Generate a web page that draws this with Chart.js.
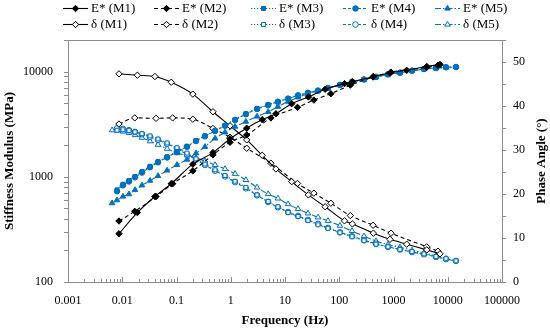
<!DOCTYPE html>
<html>
<head>
<meta charset="utf-8">
<script src="https://cdn.jsdelivr.net/npm/chart.js@4.4.1/dist/chart.umd.min.js"></script>
<style>
html, body { margin: 0; padding: 0; background: #fff; }
#wrap { width: 550px; height: 330px; position: relative; }
</style>
</head>
<body>
<div id="wrap"><canvas id="grafico"></canvas></div>
<script>
// frequencias (Hz) e valores
var freqM1 = [0.0087, 0.019, 0.04, 0.08, 0.2, 0.47, 0.97, 1.97, 3.8, 6.8, 13.3, 27, 55, 125, 175, 425, 860, 1750, 4100, 7200];
var modM1 = [288, 457, 650, 860, 1320, 1700, 2300, 2900, 3500, 3980, 4960, 5750, 6800, 7700, 8000, 9000, 9700, 10300, 11200, 11700];
var fasM1 = [47.3, 47.0, 46.7, 45.4, 42.7, 38.7, 35.5, 32.3, 28.8, 25.7, 22.8, 19.8, 17.1, 13.9, 13.2, 11.1, 9.7, 8.6, 7.3, 6.4];

var freqM2 = [0.0087, 0.017, 0.042, 0.085, 0.2, 0.47, 0.97, 1.97, 5.5, 17, 34, 70, 160, 420, 900, 4100, 6600];
var modM2 = [380, 470, 650, 860, 1140, 1620, 2130, 2500, 3630, 4580, 5370, 6170, 7440, 8900, 9900, 11000, 11500];
var fasM2 = [35.9, 37.3, 37.2, 37.3, 37.0, 34.9, 32.9, 30.4, 27.0, 22.4, 20.2, 17.9, 15.1, 12.9, 11.1, 8.0, 7.0];

var freqM3M4 = [0.008, 0.0103, 0.0133, 0.0172, 0.0231, 0.0325, 0.0456, 0.067, 0.102, 0.156, 0.229, 0.335, 0.513, 0.784, 1.2, 1.9, 3.05, 4.9, 7.4, 11.4, 17.4, 26.5, 40.6, 62, 103, 172, 286, 476, 792, 1318, 2193, 3650, 6070, 9290, 14200];
var modM3 = [752, 851, 923, 1007, 1122, 1259, 1396, 1549, 1738, 1950, 2213, 2455, 2754, 3090, 3508, 3981, 4467, 4853, 5190, 5560, 5960, 6310, 6610, 7000, 7500, 8040, 8430, 8910, 9440, 9770, 10230, 10620, 10840, 11020, 11090];
var fasM3 = [34.5, 34.6, 34.4, 34.1, 33.7, 33.2, 32.5, 31.6, 30.5, 29.3, 28.0, 26.8, 25.5, 24.2, 22.9, 21.5, 19.8, 18.3, 17.1, 15.8, 14.9, 14.0, 13.0, 12.2, 11.2, 10.3, 9.4, 8.6, 8.0, 7.4, 6.9, 6.4, 5.8, 5.3, 4.8];
var modM4 = [730, 830, 905, 990, 1100, 1235, 1375, 1530, 1720, 1930, 2190, 2430, 2730, 3060, 3470, 3940, 4420, 4820, 5170, 5540, 5940, 6290, 6600, 6990, 7480, 8010, 8420, 8900, 9420, 9760, 10210, 10600, 10830, 11000, 11080];
var fasM4 = [34.9, 34.8, 34.5, 34.1, 33.6, 33.0, 32.3, 31.4, 30.3, 29.0, 27.8, 26.6, 25.3, 24.0, 22.7, 21.3, 19.7, 18.2, 17.0, 15.9, 15.0, 14.1, 13.2, 12.3, 11.3, 10.4, 9.5, 8.7, 8.0, 7.4, 6.8, 6.3, 5.7, 5.2, 4.8];

var freqM5 = [0.0065, 0.008, 0.0103, 0.0133, 0.0172, 0.0231, 0.0325, 0.0456, 0.067, 0.102, 0.156, 0.229, 0.335, 0.513, 0.784, 1.2, 1.9, 3.05, 4.9, 7.4, 11.4, 17.4, 26.5, 40.6, 62, 103, 172, 286, 476, 792, 1318, 2193, 3650, 6070, 9290];
var modM5 = [562, 600, 650, 684, 750, 830, 920, 1020, 1150, 1300, 1460, 1680, 1930, 2320, 2650, 3000, 3350, 3750, 4150, 4650, 5200, 5700, 6150, 6550, 6950, 7450, 8000, 8400, 8900, 9400, 9750, 10200, 10550, 10800, 10950];
var fasM5 = [34.5, 34.4, 34.2, 33.9, 33.4, 32.8, 32.0, 31.2, 30.3, 29.3, 28.8, 28.2, 27.5, 26.6, 25.7, 24.6, 23.2, 21.5, 20.0, 19.0, 17.7, 16.6, 15.6, 14.7, 13.9, 12.8, 11.6, 10.4, 9.3, 8.5, 7.9, 7.2, 6.6, 5.9, 5.3];

var ticksX = [0.001, 0.01, 0.1, 1, 10, 100, 1000, 10000, 100000];
var rotulosX = ["0.001", "0.01", "0.1", "1", "10", "100", "1000", "10000", "100000"];
var ticksY = [100, 1000, 10000];
var rotulosY = ["100", "1000", "10000"];
var ticksY2 = [0, 10, 20, 30, 40, 50];

var PRETO = "#000000";
var AZUL = "#0070C0";
var FONTE = "'Liberation Serif', 'Times New Roman', serif";

function serie(rotulo, freqs, vals, eixo, cor, traco, estilo, cheio, raio) {
    return {
        label: rotulo,
        data: freqs.map(function (f, i) { return { x: f, y: vals[i] }; }),
        yAxisID: eixo,
        borderColor: cor,
        backgroundColor: cor,
        borderWidth: 1.1,
        borderDash: traco,
        pointStyle: estilo,
        pointRadius: raio,
        pointBorderWidth: 1,
        pointBorderColor: cor,
        pointBackgroundColor: cheio ? cor : "#ffffff",
        cubicInterpolationMode: "monotone",
        fill: false
    };
}

var legendaPlugin = {
    id: "legenda",
    afterDraw: function (chart) {
        var ctx = chart.ctx;
        var colX = [63, 154, 251, 343, 435];
        var linY = [8, 24];
        chart.data.datasets.forEach(function (ds, i) {
            var x0 = colX[i % 5], y = linY[Math.floor(i / 5)];
            ctx.save();
            ctx.strokeStyle = ds.borderColor;
            ctx.lineWidth = 1.1;
            ctx.setLineDash(ds.borderDash || []);
            ctx.beginPath();
            ctx.moveTo(x0, y + 0.5);
            ctx.lineTo(x0 + 25, y + 0.5);
            ctx.stroke();
            ctx.setLineDash([]);
            ctx.fillStyle = ds.pointBackgroundColor;
            ctx.strokeStyle = ds.pointBorderColor;
            ctx.lineWidth = 1;
            Chart.helpers.drawPoint(ctx, { pointStyle: ds.pointStyle, rotation: 0, radius: ds.pointRadius, borderWidth: 1 }, x0 + 12.5, y + 0.5);
            ctx.fillStyle = "#000";
            ctx.font = "13px " + FONTE;
            ctx.textBaseline = "middle";
            ctx.textAlign = "left";
            ctx.fillText(ds.label, x0 + 28, y + 1);
            ctx.restore();
        });
    }
};

var eixosPlugin = {
    id: "eixos",
    afterDraw: function (chart) {
        var a = chart.chartArea, ctx = chart.ctx;
        var sx = chart.scales.x, sy = chart.scales.y, sy2 = chart.scales.y2;
        ctx.save();
        ctx.strokeStyle = "#8c8c8c";
        ctx.lineWidth = 1;
        ctx.strokeRect(Math.round(a.left) + 0.5, Math.round(a.top) + 0.5, Math.round(a.right - a.left), Math.round(a.bottom - a.top));
        ctx.beginPath();
        for (var d = -3; d <= 5; d++) {
            for (var m = 1; m < 10; m++) {
                var v = m * Math.pow(10, d);
                if (v > 100000) break;
                var px = Math.round(sx.getPixelForValue(v)) + 0.5;
                ctx.moveTo(px, a.bottom);
                ctx.lineTo(px, a.bottom - (m === 1 ? 5 : 3));
            }
        }
        for (var d2 = 2; d2 <= 4; d2++) {
            for (var m2 = 1; m2 < 10; m2++) {
                var w = m2 * Math.pow(10, d2);
                if (w > 20000) break;
                var py = Math.round(sy.getPixelForValue(w)) + 0.5;
                ctx.moveTo(a.left, py);
                ctx.lineTo(a.left - 4, py);
            }
        }
        for (var k = 0; k <= 55; k += 5) {
            var py2 = Math.round(sy2.getPixelForValue(k)) + 0.5;
            ctx.moveTo(a.right, py2);
            ctx.lineTo(a.right + 4, py2);
        }
        ctx.stroke();
        // titulo do eixo direito, lido de baixo para cima
        ctx.fillStyle = "#000";
        ctx.font = "bold 13px " + FONTE;
        ctx.textAlign = "center";
        ctx.textBaseline = "middle";
        ctx.translate(542, (a.top + a.bottom) / 2);
        ctx.rotate(-Math.PI / 2);
        ctx.fillText("Phase Angle (\u00b0)", 0, 0);
        ctx.restore();
    }
};

var conjuntos = [
    serie("E* (M1)", freqM1, modM1, "y", PRETO, [], "rectRot", true, 3.2),
    serie("E* (M2)", freqM2, modM2, "y", PRETO, [4, 3], "rectRot", true, 3.2),
    serie("E* (M3)", freqM3M4, modM3, "y", AZUL, [1.2, 1.8], "rect", true, 2.8),
    serie("E* (M4)", freqM3M4, modM4, "y", AZUL, [3, 2], "circle", true, 2.8),
    serie("E* (M5)", freqM5, modM5, "y", AZUL, [6, 2, 1.5, 2], "triangle", true, 3.2),
    serie("\u03b4 (M1)", freqM1, fasM1, "y2", PRETO, [], "rectRot", false, 3.2),
    serie("\u03b4 (M2)", freqM2, fasM2, "y2", PRETO, [4, 3], "rectRot", false, 3.2),
    serie("\u03b4 (M3)", freqM3M4, fasM3, "y2", AZUL, [1.2, 1.8], "rect", false, 2.8),
    serie("\u03b4 (M4)", freqM3M4, fasM4, "y2", AZUL, [3, 2], "circle", false, 2.8),
    serie("\u03b4 (M5)", freqM5, fasM5, "y2", AZUL, [6, 2, 1.5, 2], "triangle", false, 3.2)
];

new Chart(document.getElementById("grafico"), {
    type: "line",
    data: { datasets: conjuntos },
    plugins: [legendaPlugin, eixosPlugin],
    options: {
        responsive: true,
        maintainAspectRatio: false,
        animation: false,
        layout: { padding: { top: 40, left: 0, right: 0, bottom: 0 } },
        plugins: { legend: { display: false }, tooltip: { enabled: false } },
        scales: {
            x: {
                type: "logarithmic",
                position: "bottom",
                min: 0.001,
                max: 100000,
                grid: { display: false, drawTicks: false },
                border: { display: false },
                afterBuildTicks: function (s) { s.ticks = ticksX.map(function (v) { return { value: v }; }); },
                afterFit: function (s) { s.height = 48; },
                ticks: {
                    autoSkip: false, maxRotation: 0, padding: 12, color: "#000",
                    font: { family: FONTE, size: 12 },
                    callback: function (v, i) { return rotulosX[i]; }
                },
                title: { display: true, text: "Frequency (Hz)", color: "#000", font: { family: FONTE, size: 13, weight: "bold" }, padding: { top: 2, bottom: 2 } }
            },
            y: {
                type: "logarithmic",
                position: "left",
                min: 100,
                max: 20000,
                grid: { display: false, drawTicks: false },
                border: { display: false },
                afterBuildTicks: function (s) { s.ticks = ticksY.map(function (v) { return { value: v }; }); },
                afterFit: function (s) { s.width = 68; },
                ticks: {
                    autoSkip: false, padding: 15, color: "#000",
                    font: { family: FONTE, size: 12 },
                    callback: function (v, i) { return rotulosY[i]; }
                },
                title: { display: true, text: "Stiffness Modulus (MPa)", color: "#000", font: { family: FONTE, size: 13, weight: "bold" }, padding: { top: 2, bottom: 0 } }
            },
            y2: {
                type: "linear",
                position: "right",
                min: 0,
                max: 55,
                grid: { display: false, drawTicks: false },
                border: { display: false },
                afterBuildTicks: function (s) { s.ticks = ticksY2.map(function (v) { return { value: v }; }); },
                afterFit: function (s) { s.width = 48; },
                ticks: {
                    autoSkip: false, padding: 11, color: "#000",
                    font: { family: FONTE, size: 12 }
                },
                title: { display: false }
            }
        }
    }
});
</script>
</body>
</html>
